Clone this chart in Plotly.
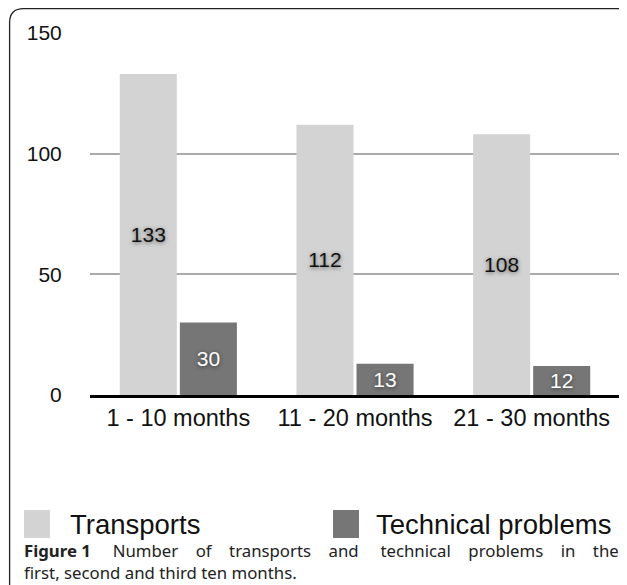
import plotly.graph_objects as go

categories = ["1 - 10 months", "11 - 20 months", "21 - 30 months"]
transports = [133, 112, 108]
technical = [30, 13, 12]
series_names = ["Transports", "Technical problems"]
y_ticks = [0, 50, 100, 150]
caption_bold = "Figure 1"
caption_line1_words = ["Number", "of", "transports", "and", "technical", "problems", "in", "the"]
caption_line2 = "first, second and third ten months."

# page has an 8px body margin: work in screenshot pixels, convert to figure pixels
OFF = 8
W, H = 627 - OFF, 585 - OFF
PLOT_X0, PLOT_X1, PLOT_Y0, PLOT_Y1 = 90, 620, 33, 395  # screenshot px
L, R = PLOT_X0 - OFF, W - (PLOT_X1 - OFF)
T, B = PLOT_Y0 - OFF, H - (PLOT_Y1 - OFF)
PW, PH = W - L - R, H - T - B


def xp(px):
    return (px - OFF - L) / PW


def yp(py):
    return (H - B - (py - OFF)) / PH


light = "#d3d3d3"
dark = "#767676"
shadow = "0px 1px 4px rgba(0,0,0,0.55)"

fig = go.Figure()
fig.add_trace(go.Bar(
    x=categories, y=transports, name=series_names[0],
    marker=dict(color=light, line=dict(width=0)),
    text=[str(v) for v in transports], textposition="inside",
    insidetextanchor="middle", textangle=0,
    textfont=dict(size=21, color="#111111", family="Liberation Sans", shadow=shadow),
    showlegend=False,
))
fig.add_trace(go.Bar(
    x=categories, y=technical, name=series_names[1],
    marker=dict(color=dark, line=dict(width=0)),
    text=[str(v) for v in technical], textposition="inside",
    insidetextanchor="middle", textangle=0,
    textfont=dict(size=21, color="#ffffff", family="Liberation Sans", shadow=shadow),
    showlegend=False,
))

# rounded frame
x0, y0, x1, y1, r = 9.6, 8.7, 650, 600, 14
path = (
    f"M {xp(x0)},{yp(y0 + r)} "
    f"Q {xp(x0)},{yp(y0)} {xp(x0 + r)},{yp(y0)} "
    f"L {xp(x1 - r)},{yp(y0)} "
    f"Q {xp(x1)},{yp(y0)} {xp(x1)},{yp(y0 + r)} "
    f"L {xp(x1)},{yp(y1 - r)} "
    f"Q {xp(x1)},{yp(y1)} {xp(x1 - r)},{yp(y1)} "
    f"L {xp(x0 + r)},{yp(y1)} "
    f"Q {xp(x0)},{yp(y1)} {xp(x0)},{yp(y1 - r)} Z"
)
shapes = [dict(type="path", xref="paper", yref="paper", path=path,
               line=dict(color="#222222", width=1.3), fillcolor="rgba(0,0,0,0)", layer="below")]

# legend swatches
shapes.append(dict(type="rect", xref="paper", yref="paper",
                   x0=xp(24), x1=xp(50), y0=yp(510), y1=yp(538),
                   fillcolor=light, line=dict(width=0)))
shapes.append(dict(type="rect", xref="paper", yref="paper",
                   x0=xp(333), x1=xp(359), y0=yp(510), y1=yp(538),
                   fillcolor=dark, line=dict(width=0)))

nb = "\u00a0"
gaps = [4, 3, 3, 3, 4, 3, 3, 3]
line1 = f"<b>{caption_bold}</b>"
for g, w in zip(gaps, caption_line1_words):
    line1 += " " + nb * g + w

annotations = [
    dict(xref="paper", yref="paper", x=xp(68), y=yp(524), xanchor="left", yanchor="middle",
         text=series_names[0], showarrow=False,
         font=dict(size=27.5, color="#111111", family="Liberation Sans")),
    dict(xref="paper", yref="paper", x=xp(374), y=yp(524), xanchor="left", yanchor="middle",
         text=series_names[1], showarrow=False,
         font=dict(size=27.5, color="#111111", family="Liberation Sans")),
    dict(xref="paper", yref="paper", x=xp(22), y=yp(561.5), xanchor="left", yanchor="middle",
         text=line1 + "<br>" + caption_line2, showarrow=False, align="left",
         font=dict(size=16.8, color="#222222", family="Noto Sans")),
]

fig.update_layout(
    width=W, height=H,
    margin=dict(l=L, r=R, t=T, b=B, pad=0),
    paper_bgcolor="white", plot_bgcolor="white",
    barmode="group", bargap=0.32, bargroupgap=0.05,
    uniformtext=dict(minsize=21, mode="show"),
    font=dict(family="Liberation Sans", color="#111111"),
    shapes=shapes, annotations=annotations,
    xaxis=dict(
        showgrid=False, showline=True, linecolor="#000000", linewidth=2.5,
        ticks="", ticklen=0,
        tickfont=dict(size=23.5, color="#111111"), fixedrange=True,
    ),
    yaxis=dict(
        range=[0, 150], tickvals=y_ticks, showgrid=True, gridcolor="#aaaaaa", gridwidth=2,
        zeroline=False, showline=False,
        ticks="outside", ticklen=23, tickcolor="rgba(0,0,0,0)",
        tickfont=dict(size=21, color="#111111"), fixedrange=True,
    ),
)

fig.write_html("out.html")
